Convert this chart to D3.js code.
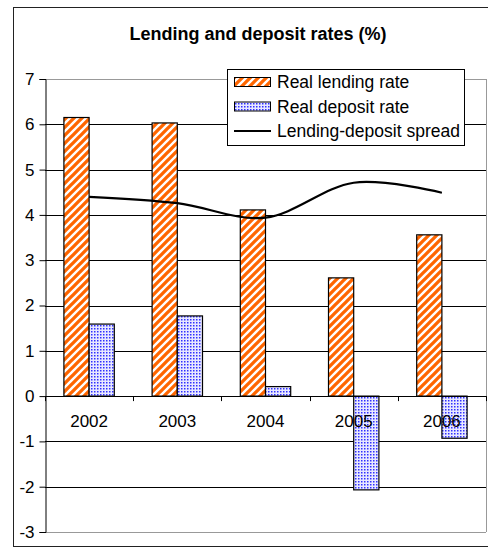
<!DOCTYPE html>
<html>
<head>
<meta charset="utf-8">
<script src="https://cdn.jsdelivr.net/npm/d3@7"></script>
<style>
  body { margin: 0; background: #fff; }
  text { font-family: "Liberation Sans", Arial, sans-serif; }
</style>
</head>
<body>
<div id="chart"></div>
<script>
var years = ["2002", "2003", "2004", "2005", "2006"];
var lending = [6.15, 6.03, 4.11, 2.61, 3.56];
var deposit = [1.59, 1.77, 0.21, -2.07, -0.93];
var spread = [4.40, 4.26, 3.94, 4.71, 4.49];
var yTicks = [-3, -2, -1, 0, 1, 2, 3, 4, 5, 6, 7];

(function () {
var width = 488, height = 548;
var plotLeft = 45, plotRight = 486, plotTop = 79, plotBottom = 532;

var svg = d3.select("#chart").append("svg")
  .attr("width", width)
  .attr("height", height);

var defs = svg.append("defs");

// orange upward diagonal stripes
var stripes = defs.append("pattern")
  .attr("id", "stripes")
  .attr("patternUnits", "userSpaceOnUse")
  .attr("width", 8).attr("height", 8);
stripes.append("rect").attr("width", 8).attr("height", 8).attr("fill", "#fff");
stripes.append("path")
  .attr("d", "M-2,2 L2,-2 M0,8 L8,0 M6,10 L10,6")
  .attr("stroke", "#ff6600")
  .attr("stroke-width", 3.3);

// blue dots
var dots = defs.append("pattern")
  .attr("id", "dots")
  .attr("patternUnits", "userSpaceOnUse")
  .attr("width", 3).attr("height", 3);
dots.append("rect").attr("width", 3).attr("height", 3).attr("fill", "#e8e8ff");
dots.append("rect").attr("x", 1).attr("y", 1).attr("width", 1.5).attr("height", 1.5).attr("fill", "#3030ff");

// outer frame
svg.append("rect")
  .attr("x", 13.5).attr("y", 7.5)
  .attr("width", 480).attr("height", 539)
  .attr("fill", "#fff")
  .attr("stroke", "#222");

svg.append("text")
  .attr("x", 258).attr("y", 40)
  .attr("text-anchor", "middle")
  .attr("font-weight", "bold")
  .attr("font-size", 18)
  .text("Lending and deposit rates (%)");

var x = d3.scaleBand().domain(years).range([plotLeft, plotRight]);
var inner = d3.scaleBand().domain(["lending", "deposit"])
  .range([0, x.bandwidth()]).paddingInner(0).paddingOuter(0.75);
var y = d3.scaleLinear().domain([-3, 7]).range([plotBottom, plotTop]);

// gridlines
svg.append("g").selectAll("line")
  .data(yTicks)
  .enter().append("line")
  .attr("x1", plotLeft).attr("x2", plotRight)
  .attr("y1", function (d) { return Math.round(y(d)) + 0.5; })
  .attr("y2", function (d) { return Math.round(y(d)) + 0.5; })
  .attr("stroke", function (d) { return d == 7 || d == -3 ? "#999" : "#000"; })
  .attr("stroke-width", 1);

// plot area right border
svg.append("line")
  .attr("x1", plotRight + 0.5).attr("x2", plotRight + 0.5)
  .attr("y1", y(7)).attr("y2", y(-3))
  .attr("stroke", "#999");

// bars
var g = svg.append("g");
g.selectAll(".lend")
  .data(lending)
  .enter().append("rect")
  .attr("class", "lend")
  .attr("x", function (d, i) { return x(years[i]) + inner("lending"); })
  .attr("width", inner.bandwidth())
  .attr("y", function (d) { return y(Math.max(0, d)); })
  .attr("height", function (d) { return Math.abs(y(d) - y(0)); })
  .attr("fill", "url(#stripes)")
  .attr("stroke", "#000")
  .attr("stroke-width", 1.2);

g.selectAll(".dep")
  .data(deposit)
  .enter().append("rect")
  .attr("class", "dep")
  .attr("x", function (d, i) { return x(years[i]) + inner("deposit"); })
  .attr("width", inner.bandwidth())
  .attr("y", function (d) { return y(Math.max(0, d)); })
  .attr("height", function (d) { return Math.abs(y(d) - y(0)); })
  .attr("fill", "url(#dots)")
  .attr("stroke", "#000")
  .attr("stroke-width", 1.2);

// y axis
var yAxis = d3.axisLeft(y).tickValues(yTicks).tickSize(6).tickPadding(5)
  .tickFormat(function (d) { return String(d); });
var ya = svg.append("g")
  .attr("transform", "translate(" + (plotLeft + 0.5) + ",0)")
  .call(yAxis);
ya.selectAll("text").attr("font-size", 17).attr("fill", "#000")
  .style("font-family", '"Liberation Sans", Arial, sans-serif');
ya.selectAll("line, path").attr("stroke", "#000");

// x axis at zero
var xTicks = d3.range(years.length + 1).map(function (i) { return plotLeft + i * x.step(); });
svg.append("line")
  .attr("x1", plotLeft).attr("x2", plotRight)
  .attr("y1", Math.round(y(0)) + 0.5).attr("y2", Math.round(y(0)) + 0.5)
  .attr("stroke", "#000");
svg.append("g").selectAll("line")
  .data(xTicks)
  .enter().append("line")
  .attr("x1", function (d) { return Math.round(d) + 0.5; })
  .attr("x2", function (d) { return Math.round(d) + 0.5; })
  .attr("y1", y(0)).attr("y2", y(0) + 5)
  .attr("stroke", "#000");
svg.append("g").selectAll("text")
  .data(years)
  .enter().append("text")
  .attr("x", function (d) { return x(d) + x.bandwidth() / 2; })
  .attr("y", y(0) + 31)
  .attr("text-anchor", "middle")
  .attr("font-size", 17)
  .text(function (d) { return d; });

// spread line
var line = d3.line()
  .x(function (d, i) { return x(years[i]) + x.bandwidth() / 2; })
  .y(function (d) { return y(d); })
  .curve(d3.curveCatmullRom.alpha(0));
svg.append("path")
  .datum(spread)
  .attr("d", line)
  .attr("fill", "none")
  .attr("stroke", "#000")
  .attr("stroke-width", 2.2);

// legend
var lg = svg.append("g");
lg.append("rect")
  .attr("x", 227.5).attr("y", 69.5)
  .attr("width", 237).attr("height", 76)
  .attr("fill", "#fff")
  .attr("stroke", "#000");
var legendItems = [
  { label: "Real lending rate", fill: "url(#stripes)" },
  { label: "Real deposit rate", fill: "url(#dots)" },
  { label: "Lending-deposit spread", fill: null }
];
legendItems.forEach(function (d, i) {
  var cy = 82 + i * 24.5;
  if (d.fill) {
    lg.append("rect")
      .attr("x", 234.5).attr("y", cy - 4.5)
      .attr("width", 36).attr("height", 9)
      .attr("fill", d.fill)
      .attr("stroke", "#000");
  } else {
    lg.append("line")
      .attr("x1", 234).attr("x2", 271)
      .attr("y1", cy).attr("y2", cy)
      .attr("stroke", "#000").attr("stroke-width", 2.2);
  }
  lg.append("text")
    .attr("x", 277).attr("y", cy + 6)
    .attr("font-size", 17.5)
    .text(d.label);
});
})();
</script>
</body>
</html>
